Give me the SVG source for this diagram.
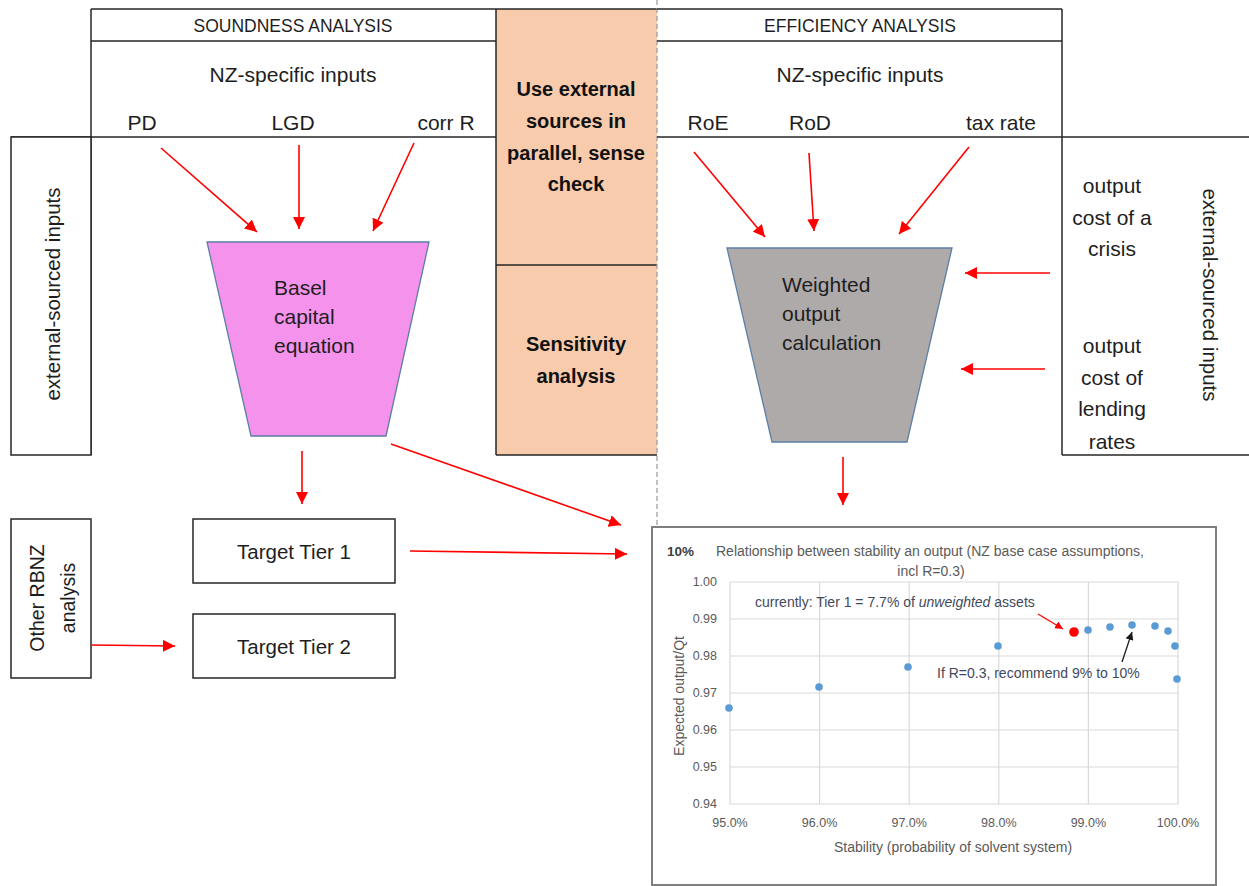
<svg xmlns="http://www.w3.org/2000/svg" width="1249" height="886" viewBox="0 0 1249 886">
<style>
text{font-family:"Liberation Sans",Arial,sans-serif;fill:#1e1e1e;dominant-baseline:central}
.frame{stroke:#262626;stroke-width:1.5;fill:none}
.box{stroke:#262626;stroke-width:1.5;fill:#fff}
.c{text-anchor:middle}
.lbl{font-size:21px}
.hdr{font-size:17.5px}
.bold{font-size:20px;font-weight:bold;text-anchor:middle;fill:#111}
.red{stroke:#ff0000;stroke-width:1.6;fill:none;marker-end:url(#ah)}
.ct{font-size:14px;fill:#5a5a5a}
.ax{font-size:12.5px;fill:#5a5a5a}
.grid{stroke:#d9d9d9;stroke-width:1.2}
.dot{fill:#5b9bd5}
.ann{font-size:14px;fill:#3f4a5c}
</style>
<defs>
<marker id="ah" viewBox="0 0 10 10" refX="10" refY="5" markerWidth="12" markerHeight="12" markerUnits="userSpaceOnUse" orient="auto"><path d="M0,0 L10,5 L0,10 z" fill="#ff0000"/></marker>
<marker id="ahs" viewBox="0 0 10 10" refX="10" refY="5" markerWidth="8" markerHeight="8" markerUnits="userSpaceOnUse" orient="auto"><path d="M0,0 L10,5 L0,10 z" fill="#ff0000"/></marker>
<marker id="ahk" viewBox="0 0 10 10" refX="10" refY="5" markerWidth="8" markerHeight="8" markerUnits="userSpaceOnUse" orient="auto"><path d="M0,0 L10,5 L0,10 z" fill="#1a1a1a"/></marker>
</defs>
<rect width="1249" height="886" fill="#fff"/>

<g id="soundness-frame">
<line class="frame" x1="91" y1="9" x2="496" y2="9"/>
<line class="frame" x1="91" y1="41" x2="496" y2="41"/>
<line class="frame" x1="91" y1="9" x2="91" y2="455"/>
<line class="frame" x1="11" y1="137" x2="496" y2="137"/>
<text class="hdr c" x="293" y="26">SOUNDNESS ANALYSIS</text>
<text class="lbl c" x="293" y="74">NZ-specific inputs</text>
<text class="lbl c" x="142" y="122">PD</text>
<text class="lbl c" x="293" y="122">LGD</text>
<text class="lbl c" x="446" y="122">corr R</text>
</g>

<g id="ext-left">
<rect class="box" x="11" y="137" width="80" height="318"/>
<text class="c" font-size="20.5" transform="translate(52,294) rotate(-90)">external-sourced inputs</text>
</g>

<g id="orange">
<rect x="496" y="9" width="161" height="446" fill="#f8cbad"/>
<line class="frame" x1="496" y1="9" x2="657" y2="9"/>
<line class="frame" x1="496" y1="9" x2="496" y2="455"/>
<line class="frame" x1="496" y1="455" x2="657" y2="455"/>
<line class="frame" x1="496" y1="265" x2="657" y2="265"/>
<text class="bold" x="576" y="89">Use external</text>
<text class="bold" x="576" y="121">sources in</text>
<text class="bold" x="576" y="153">parallel, sense</text>
<text class="bold" x="576" y="184">check</text>
<text class="bold" x="576" y="344">Sensitivity</text>
<text class="bold" x="576" y="376">analysis</text>
</g>

<line x1="657" y1="0" x2="657" y2="526" stroke="#9a9a9a" stroke-width="1.2" stroke-dasharray="5,3"/>

<g id="efficiency-frame">
<line class="frame" x1="657" y1="9" x2="1062" y2="9"/>
<line class="frame" x1="657" y1="41" x2="1062" y2="41"/>
<line class="frame" x1="1062" y1="9" x2="1062" y2="455"/>
<line class="frame" x1="657" y1="137" x2="1249" y2="137"/>
<line class="frame" x1="1062" y1="455" x2="1249" y2="455"/>
<text class="hdr c" x="860" y="26">EFFICIENCY ANALYSIS</text>
<text class="lbl c" x="860" y="74">NZ-specific inputs</text>
<text class="lbl c" x="708" y="122">RoE</text>
<text class="lbl c" x="810" y="122">RoD</text>
<text class="lbl c" x="1001" y="122">tax rate</text>
</g>

<g id="ext-right">
<text class="lbl c" x="1112" y="185">output</text>
<text class="lbl c" x="1112" y="217">cost of a</text>
<text class="lbl c" x="1112" y="248">crisis</text>
<text class="lbl c" x="1112" y="345">output</text>
<text class="lbl c" x="1112" y="377">cost of</text>
<text class="lbl c" x="1112" y="408">lending</text>
<text class="lbl c" x="1112" y="441">rates</text>
<text class="c" font-size="20.5" transform="translate(1210,295) rotate(90)">external-sourced inputs</text>
</g>

<g id="basel">
<polygon points="207,242 429,242 386,436 251,436" fill="#f592eb" stroke="#5b7fa6" stroke-width="1.3"/>
<text class="lbl" x="274" y="287">Basel</text>
<text class="lbl" x="274" y="316">capital</text>
<text class="lbl" x="274" y="345">equation</text>
</g>

<g id="weighted">
<polygon points="727,248 952,248 907,442 772,442" fill="#aeaaaa" stroke="#5b7fa6" stroke-width="1.3"/>
<text class="lbl" x="782" y="284">Weighted</text>
<text class="lbl" x="782" y="313">output</text>
<text class="lbl" x="782" y="342">calculation</text>
</g>

<g id="tier1">
<rect class="box" x="193" y="519" width="202" height="64"/>
<text class="c" font-size="20.5" x="294" y="551">Target Tier 1</text>
</g>
<g id="tier2">
<rect class="box" x="193" y="614" width="202" height="64"/>
<text class="c" font-size="20.5" x="294" y="646">Target Tier 2</text>
</g>
<g id="other">
<rect class="box" x="11" y="519" width="80" height="159"/>
<text class="c" font-size="19.5" transform="translate(37,598) rotate(-90)">Other RBNZ</text>
<text class="c" font-size="19.5" transform="translate(68,598) rotate(-90)">analysis</text>
</g>

<g id="connectors">
<line class="red" x1="161" y1="148" x2="257" y2="232"/>
<line class="red" x1="299" y1="145" x2="299" y2="229"/>
<line class="red" x1="414" y1="143" x2="373" y2="231"/>
<line class="red" x1="694" y1="152" x2="765" y2="237"/>
<line class="red" x1="809" y1="153" x2="814" y2="231"/>
<line class="red" x1="969" y1="147" x2="899" y2="234"/>
<line class="red" x1="1050" y1="273" x2="965" y2="273"/>
<line class="red" x1="1045" y1="369" x2="961" y2="369"/>
<line class="red" x1="302" y1="451" x2="302" y2="504"/>
<line class="red" x1="391" y1="444" x2="621" y2="525"/>
<line class="red" x1="843" y1="457" x2="843" y2="505"/>
<line class="red" x1="410" y1="551" x2="627" y2="554"/>
<line class="red" x1="91" y1="645" x2="175" y2="646"/>
</g>

<g id="chart">
<rect x="652" y="527" width="564" height="358" fill="#fff" stroke="#7f7f7f" stroke-width="2"/>
<text x="667" y="551" font-size="13.5" font-weight="bold" fill="#404040" style="fill:#404040">10%</text>
<text class="ct c" x="930" y="551">Relationship between stability an output (NZ base case assumptions,</text>
<text class="ct c" x="931" y="571">incl R=0.3)</text>
<g>
<line class="grid" x1="730" y1="582" x2="1178" y2="582"/>
<line class="grid" x1="730" y1="619" x2="1178" y2="619"/>
<line class="grid" x1="730" y1="656" x2="1178" y2="656"/>
<line class="grid" x1="730" y1="693" x2="1178" y2="693"/>
<line class="grid" x1="730" y1="730" x2="1178" y2="730"/>
<line class="grid" x1="730" y1="767" x2="1178" y2="767"/>
<line class="grid" x1="730" y1="804" x2="1178" y2="804"/>
<line class="grid" x1="730" y1="582" x2="730" y2="804"/>
<line class="grid" x1="819.6" y1="582" x2="819.6" y2="804"/>
<line class="grid" x1="909.2" y1="582" x2="909.2" y2="804"/>
<line class="grid" x1="998.8" y1="582" x2="998.8" y2="804"/>
<line class="grid" x1="1088.4" y1="582" x2="1088.4" y2="804"/>
<line class="grid" x1="1178" y1="582" x2="1178" y2="804"/>
</g>
<g text-anchor="end">
<text class="ax" x="717" y="582">1.00</text>
<text class="ax" x="717" y="619">0.99</text>
<text class="ax" x="717" y="656">0.98</text>
<text class="ax" x="717" y="693">0.97</text>
<text class="ax" x="717" y="730">0.96</text>
<text class="ax" x="717" y="767">0.95</text>
<text class="ax" x="717" y="804">0.94</text>
</g>
<text class="ax c" x="730" y="823">95.0%</text>
<text class="ax c" x="819.6" y="823">96.0%</text>
<text class="ax c" x="909.2" y="823">97.0%</text>
<text class="ax c" x="998.8" y="823">98.0%</text>
<text class="ax c" x="1088.4" y="823">99.0%</text>
<text class="ax c" x="1178" y="823">100.0%</text>
<text class="ct c" x="953" y="847">Stability (probability of solvent system)</text>
<text class="ct c" transform="translate(679,696) rotate(-90)">Expected output/Qt</text>
<circle class="dot" cx="729" cy="708" r="3.8"/>
<circle class="dot" cx="819" cy="687" r="3.8"/>
<circle class="dot" cx="908" cy="667" r="3.8"/>
<circle class="dot" cx="998" cy="646" r="3.8"/>
<circle class="dot" cx="1088" cy="630" r="3.8"/>
<circle class="dot" cx="1110" cy="627" r="3.8"/>
<circle class="dot" cx="1132" cy="625" r="3.8"/>
<circle class="dot" cx="1155" cy="626" r="3.8"/>
<circle class="dot" cx="1168" cy="631" r="3.8"/>
<circle class="dot" cx="1175" cy="646" r="3.8"/>
<circle class="dot" cx="1177" cy="679" r="3.8"/>
<circle cx="1074" cy="632" r="4.8" fill="#ff0000"/>
<text class="ann" x="755" y="602">currently: Tier 1 = 7.7% of <tspan font-style="italic">unweighted</tspan> assets</text>
<line x1="1038" y1="614" x2="1063" y2="629" stroke="#ff0000" stroke-width="1.3" marker-end="url(#ahs)"/>
<text class="ann" x="937" y="673">If R=0.3, recommend 9% to 10%</text>
<line x1="1122" y1="662" x2="1132" y2="632" stroke="#1a1a1a" stroke-width="1.3" marker-end="url(#ahk)"/>
</g>
</svg>
